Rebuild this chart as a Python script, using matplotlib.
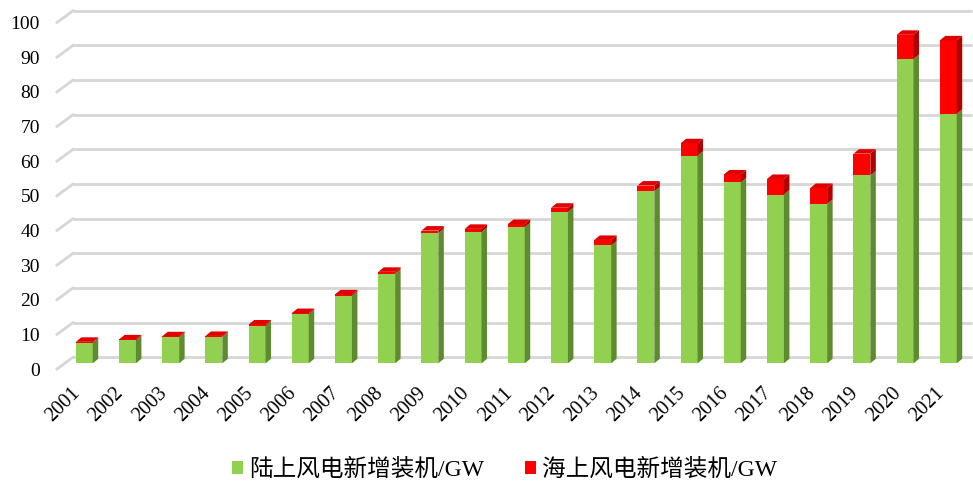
import matplotlib
matplotlib.use("Agg")
import matplotlib.pyplot as plt
from matplotlib.patches import Polygon, Patch

years = ["2001", "2002", "2003", "2004", "2005", "2006", "2007", "2008", "2009", "2010",
         "2011", "2012", "2013", "2014", "2015", "2016", "2017", "2018", "2019", "2020", "2021"]
onshore = [5.9, 6.6, 7.5, 7.6, 10.9, 14.2, 19.5, 25.9, 37.6, 37.9,
           39.3, 43.7, 34.0, 49.6, 59.9, 52.2, 48.7, 46.0, 54.2, 87.8, 72.0]
offshore = [0.3, 0.3, 0.3, 0.3, 0.3, 0.3, 0.4, 0.5, 0.7, 0.9,
            0.9, 1.2, 1.6, 1.7, 3.6, 2.3, 4.5, 4.6, 6.3, 7.0, 21.2]
yticks = [0, 10, 20, 30, 40, 50, 60, 70, 80, 90, 100]
labels = ["陆上风电新增装机/GW", "海上风电新增装机/GW"]

W, H = 973, 484
fig = plt.figure(figsize=(W / 100, H / 100), dpi=100)

# pixel geometry (from top-left)
ax_left_px, ax_right_px = 57, 972
ax_top_px, ax_bot_px = 10, 369
x0_px, dx_px = 84.3, 43.2          # first bar centre, spacing
y0_px, unit_px = 363.3, 3.465       # bar plane zero, px per unit

ax = fig.add_axes([ax_left_px / W, 1 - ax_bot_px / H,
                   (ax_right_px - ax_left_px) / W, (ax_bot_px - ax_top_px) / H])
xlim = ((ax_left_px - x0_px) / dx_px, (ax_right_px - x0_px) / dx_px)
ylim = ((y0_px - ax_bot_px) / unit_px, (y0_px - ax_top_px) / unit_px)
ax.set_xlim(*xlim)
ax.set_ylim(*ylim)
for s in ax.spines.values():
    s.set_visible(False)

# perspective gridlines
back_x = (73 - x0_px) / dx_px
back_dy = 6.0 / unit_px
front_dy = 5.7 / unit_px
for v in yticks:
    ax.plot([back_x, xlim[1]], [v + back_dy, v + back_dy], color="#d6d6d6",
            lw=2.0, zorder=1, solid_capstyle="butt", clip_on=False)
    ax.plot([xlim[0], back_x], [v - front_dy, v + back_dy], color="#d6d6d6",
            lw=2.0, zorder=1, clip_on=False)

# 3D-ish bars
w = 0.39
ddx = 5.5 / dx_px
ddy = 4.5 / unit_px
green_f, green_s = "#92D050", "#5E8A30"
red_f, red_s, red_t = "#FF0000", "#B00000", "#E00000"
x = list(range(len(years)))
ax.bar(x, onshore, width=w, color=green_f, zorder=3, linewidth=0)
ax.bar(x, offshore, bottom=onshore, width=w, color=red_f, zorder=3, linewidth=0)
for i in x:
    b1, t1 = 0, onshore[i]
    b2, t2 = onshore[i], onshore[i] + offshore[i]
    r = i + w / 2
    l = i - w / 2
    ax.add_patch(Polygon([(r, b1), (r, t1), (r + ddx, t1 + ddy), (r + ddx, b1 + ddy)],
                         closed=True, facecolor=green_s, edgecolor="none", zorder=3))
    ax.add_patch(Polygon([(r, b2), (r, t2), (r + ddx, t2 + ddy), (r + ddx, b2 + ddy)],
                         closed=True, facecolor=red_s, edgecolor="none", zorder=3))
    ax.add_patch(Polygon([(l, t2), (r, t2), (r + ddx, t2 + ddy), (l + ddx, t2 + ddy)],
                         closed=True, facecolor=red_t, edgecolor="none", zorder=3))

serif = ["Liberation Serif", "Noto Sans CJK SC"]
ax.set_yticks([v - front_dy for v in yticks])
ax.set_yticklabels([str(v) for v in yticks], fontsize=14, family=serif, color="#000000")
ax.tick_params(axis="y", length=0, pad=(ax_left_px - 40) * 0.72)
ax.set_xticks(x)
ax.set_xticklabels(years, rotation=45, ha="right", va="top", fontsize=14.5, family=serif)
ax.tick_params(axis="x", length=0, pad=15 * 0.72)

handles = [Patch(facecolor=green_f, edgecolor="none"), Patch(facecolor=red_f, edgecolor="none")]
fig.legend(handles, labels, loc="center", bbox_to_anchor=(504.5 / W, 1 - 470 / H), ncol=2,
           frameon=False, prop={"family": serif, "size": 17},
           handlelength=0.48, handleheight=0.48, handletextpad=0.25, columnspacing=1.75)

fig.savefig("out.png", dpi=100)
